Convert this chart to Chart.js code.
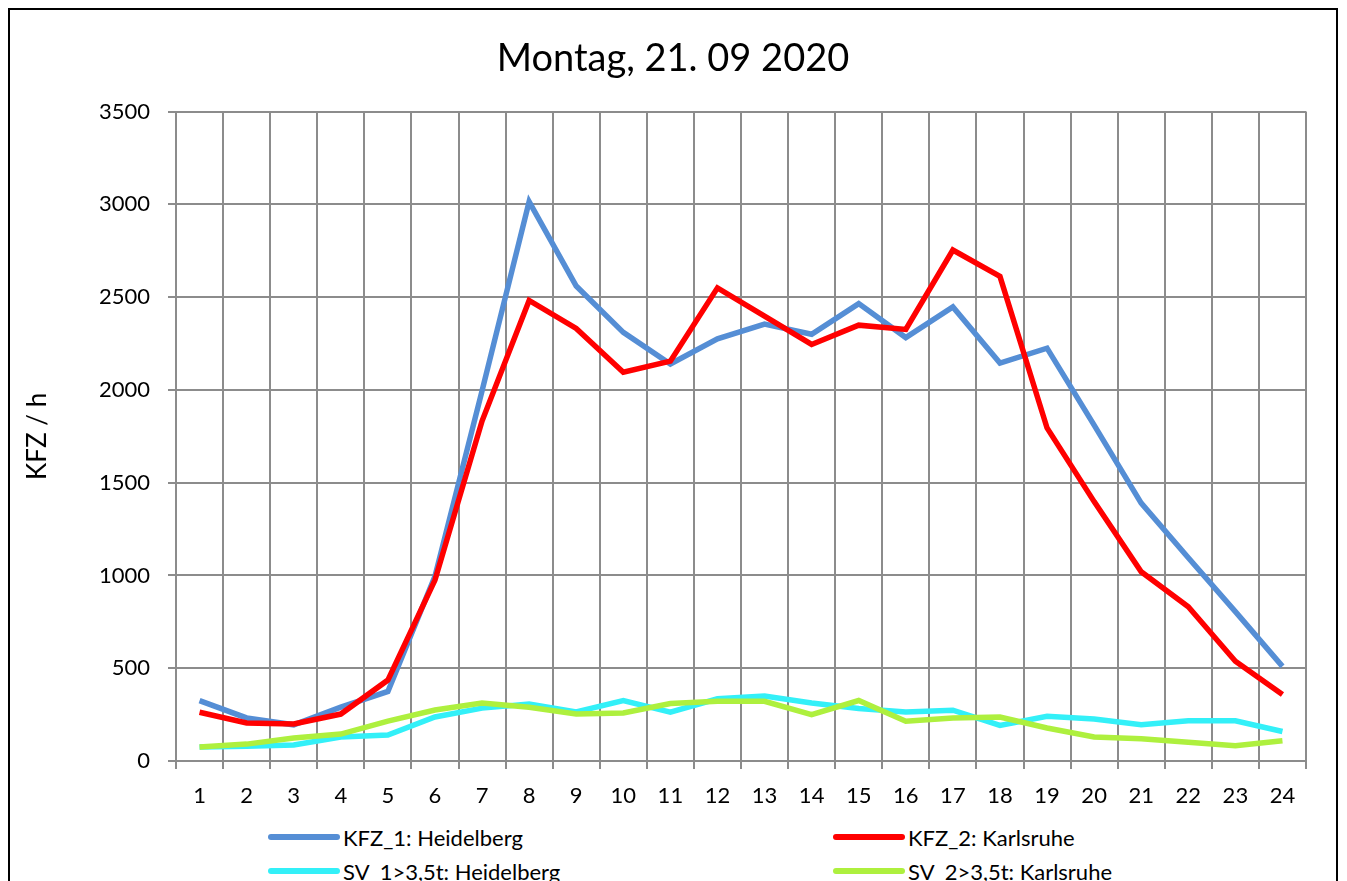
<!DOCTYPE html>
<html>
<head>
<meta charset="utf-8">
<script src="https://cdn.jsdelivr.net/npm/chart.js@4.4.1/dist/chart.umd.min.js"></script>
<style>
  body { margin: 0; background: #fff; font-family: Lato, sans-serif; }
  #frame { position: absolute; left: 8px; top: 8px; width: 1326px; height: 960px; border: 2px solid #000; }
  #wrap { position: absolute; left: 0; top: 0; width: 1326px; height: 805px; }
  #legend { position: absolute; left: 258px; top: 815px; display: grid; grid-template-columns: 565px 300px; row-gap: 10px; }
  .item { display: flex; align-items: center; font-size: 22px; height: 24px; color: #000; }
  .line { width: 72px; height: 6px; border-radius: 3px; margin-right: 3px; }
</style>
</head>
<body>
<div id="frame">
  <div id="wrap"><canvas id="myChart"></canvas></div>
  <div id="legend"></div>
</div>
<script>
// Stunden
const stunden = ["1","2","3","4","5","6","7","8","9","10","11","12","13","14","15","16","17","18","19","20","21","22","23","24"];

// Werte KFZ / h
const kfz1Heidelberg = [325, 232, 195, 290, 375, 995, 1995, 3015, 2560, 2310, 2140, 2275, 2355, 2300, 2465, 2282, 2447, 2145, 2225, 1810, 1390, 1095, 805, 510];
const kfz2Karlsruhe = [263, 205, 200, 253, 436, 975, 1832, 2482, 2331, 2095, 2155, 2550, 2398, 2245, 2349, 2326, 2754, 2612, 1795, 1398, 1020, 831, 538, 358];
const sv1Heidelberg = [75, 80, 86, 129, 140, 237, 285, 307, 264, 325, 263, 335, 350, 313, 283, 264, 274, 192, 241, 226, 196, 217, 217, 159];
const sv2Karlsruhe = [75, 91, 124, 145, 215, 275, 312, 290, 253, 259, 310, 322, 322, 250, 326, 214, 232, 237, 178, 129, 120, 101, 82, 109];

const reihenNamen = ["KFZ_1: Heidelberg", "KFZ_2: Karlsruhe", "SV_1>3,5t: Heidelberg", "SV_2>3,5t: Karlsruhe"];
const farben = ["#558ed5", "#ff0000", "#33f0f8", "#aef03e"];
const yTicks = [0, 500, 1000, 1500, 2000, 2500, 3000, 3500];

Chart.defaults.font.family = "Lato";
Chart.defaults.color = "#000";

const gitter = "#8c8c8c";
const reihen = [kfz1Heidelberg, kfz2Karlsruhe, sv1Heidelberg, sv2Karlsruhe];

let ctx = document.getElementById('myChart').getContext('2d');
let chart = new Chart(ctx, {
  type: 'line',
  data: {
    labels: stunden,
    datasets: reihen.map((werte, i) => ({
      label: reihenNamen[i],
      data: werte,
      borderColor: farben[i],
      backgroundColor: farben[i],
      borderWidth: 5.5,
      pointRadius: 0,
      tension: 0,
      order: 4 - i
    }))
  },
  options: {
    responsive: true,
    maintainAspectRatio: false,
    animation: false,
    devicePixelRatio: 1,
    // links und rechts gleich, damit der Titel mittig sitzt
    layout: { padding: { left: 30, right: 30, top: 0, bottom: 0 } },
    plugins: {
      legend: { display: false },
      tooltip: { enabled: false },
      title: {
        display: true,
        text: "Montag, 21. 09 2020",
        font: { size: 38, weight: 'normal' },
        color: "#000",
        padding: { top: 26, bottom: 30 }
      }
    },
    scales: {
      x: {
        offset: true,
        grid: { offset: true, color: gitter, lineWidth: 2, tickLength: 8 },
        border: { color: gitter, width: 2 },
        ticks: { font: { size: 22 }, padding: 14, maxRotation: 0, autoSkip: false },
        afterFit: (s) => { s.height = 54; }
      },
      y: {
        min: 0,
        max: 3500,
        afterBuildTicks: (s) => { s.ticks = yTicks.map(v => ({ value: v })); },
        grid: { color: gitter, lineWidth: 2, tickLength: 8 },
        border: { color: gitter, width: 2 },
        ticks: { font: { size: 22 }, padding: 18, callback: (v) => String(v) },
        title: { display: true, text: "KFZ / h", font: { size: 26 }, padding: { top: -18, bottom: 0 } },
        afterFit: (s) => { s.width = 136; }
      }
    }
  }
});

// Legende (zwei Spalten wie im Original)
const legende = document.getElementById('legend');
reihenNamen.forEach((name, i) => {
  const el = document.createElement('div');
  el.className = 'item';
  el.innerHTML = '<span class="line" style="background:' + farben[i] + '"></span><span>' + name + '</span>';
  legende.appendChild(el);
});
</script>
</body>
</html>
